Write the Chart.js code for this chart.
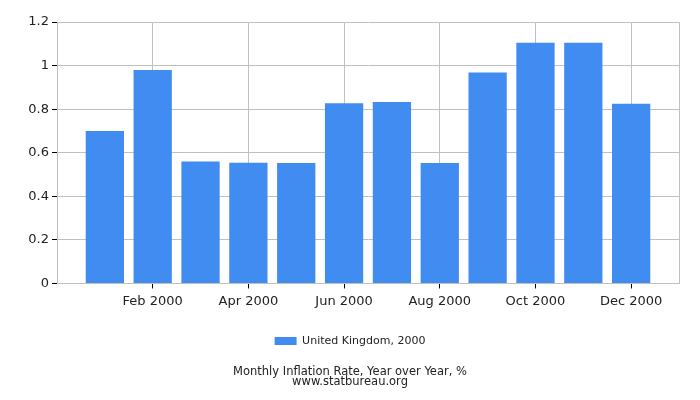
<!DOCTYPE html>
<html>
<head>
<meta charset="utf-8">
<script src="https://cdn.jsdelivr.net/npm/chart.js@4.4.0/dist/chart.umd.min.js"></script>
<style>
html,body{margin:0;padding:0;background:#fff;}
#wrap{width:700px;height:400px;position:relative;}
</style>
</head>
<body>
<div id="wrap"><canvas id="c" width="700" height="400"></canvas></div>
<script>
const categories = ['Jan 2000','Feb 2000','Mar 2000','Apr 2000','May 2000','Jun 2000','Jul 2000','Aug 2000','Sep 2000','Oct 2000','Nov 2000','Dec 2000'];
const seriesName = 'United Kingdom, 2000';
const values = [0.70, 0.98, 0.56, 0.554, 0.553, 0.827, 0.833, 0.553, 0.968, 1.105, 1.105, 0.825];
const xTickIndices = [1, 3, 5, 7, 9, 11];
const yTicks = [0, 0.2, 0.4, 0.6, 0.8, 1, 1.2];
const titleLines = ['Monthly Inflation Rate, Year over Year, %', 'www.statbureau.org'];

const FONT = 'DejaVu Sans';
const GRID = '#c0c0c0';

new Chart(document.getElementById('c'), {
  type: 'bar',
  data: {
    datasets: [{
      label: seriesName,
      data: values.map((v, i) => ({ x: i, y: v })),
      backgroundColor: '#418cf0',
      borderWidth: 0,
      barPercentage: 0.8,
      categoryPercentage: 1.0
    }]
  },
  options: {
    responsive: false,
    animation: false,
    devicePixelRatio: 1,
    layout: { padding: { left: 0, right: 0, top: 22, bottom: 0 } },
    scales: {
      x: {
        type: 'linear',
        min: -1,
        max: categories.length,
        offset: false,
        afterBuildTicks: s => { s.ticks = xTickIndices.map(v => ({ value: v })); },
        grid: {
          offset: false,
          color: GRID,
          tickColor: '#000',
          tickLength: 5
        },
        border: { color: GRID },
        ticks: {
          autoSkip: false,
          maxRotation: 0,
          padding: 5,
          color: '#222',
          font: { family: FONT, size: 13 },
          callback: v => categories[v] || ''
        },
        afterFit: s => { s.height = 30; }
      },
      y: {
        min: 0,
        max: 1.2,
        afterBuildTicks: s => { s.ticks = yTicks.map(v => ({ value: v })); },
        grid: { color: GRID, tickColor: '#000', tickLength: 5 },
        border: { color: GRID },
        ticks: {
          padding: 3,
          color: '#222',
          font: { family: FONT, size: 13 },
          callback: v => String(Math.round(v * 10) / 10)
        },
        afterFit: s => { s.width = 57; }
      },
      y2: {
        position: 'right',
        min: 0,
        max: 1.2,
        grid: { drawOnChartArea: false, drawTicks: false },
        border: { color: GRID },
        ticks: { display: false },
        afterFit: s => { s.width = 21; }
      }
    },
    plugins: {
      legend: {
        position: 'bottom',
        labels: {
          boxWidth: 22,
          boxHeight: 8,
          padding: 22,
          color: '#222',
          font: { family: FONT, size: 11 }
        }
      },
      title: {
        display: true,
        position: 'bottom',
        text: titleLines,
        color: '#222',
        font: { family: FONT, size: 11.5, weight: 'normal', lineHeight: 0.85 },
        padding: { top: 11, bottom: 13 }
      },
      tooltip: { enabled: false }
    }
  }
});
</script>
</body>
</html>
